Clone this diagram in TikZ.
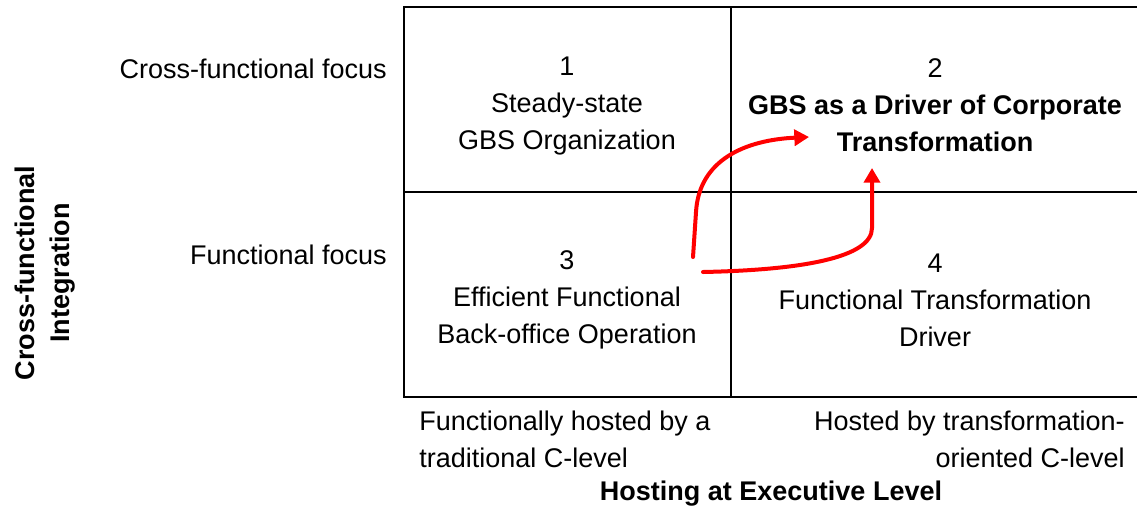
\documentclass[tikz,border=0pt]{standalone}
\usepackage{fontspec}
\setmainfont{Liberation Sans}
\usetikzlibrary{arrows.meta}

\begin{document}
\begin{tikzpicture}[x=0.75pt, y=-0.75pt,
        txt/.style={font=\fontsize{20.25}{27.75}\selectfont, align=center, inner sep=0pt},
        grid/.style={line width=1.6pt, line cap=rect},
        move/.style={red, line width=3pt, line cap=round,
                     -{Triangle[length=11pt, width=12pt]}}]
        \useasboundingbox (0,0) rectangle (1137,511);
        % matrix lines
        \coordinate (TL) at (404,7);
        \coordinate (TR) at (1137,7);
        \coordinate (BL) at (404,397);
        \coordinate (BR) at (1137,397);
        \coordinate (ML) at (404,192);
        \coordinate (MR) at (1137,192);
        \coordinate (MT) at (731,7);
        \coordinate (MB) at (731,397);
        \draw[grid] (TR) -- (TL) -- (BL) -- (BR);
        \draw[grid] (ML) -- (MR);
        \draw[grid] (MT) -- (MB);
        % quadrants
        \node[txt](Q1) at (567,106) {1\\Steady-state\\GBS Organization};
        \node[txt](Q2) at (935,105) {2\\\textbf{GBS as a Driver of Corporate}\\\textbf{Transformation}};
        \node[txt](Q3) at (567,300) {3\\Efficient Functional\\Back-office Operation};
        \node[txt](Q4) at (935,300) {4\\Functional Transformation\\Driver};
        % row labels
        \node[txt, anchor=east](CF) at (387,69)  {Cross-functional focus};
        \node[txt, anchor=east](FF) at (387,255) {Functional focus};
        % column labels
        \node[txt, anchor=west, align=left](HL)  at (419,439)  {Functionally hosted by a\\traditional C-level};
        \node[txt, anchor=east, align=right](HR) at (1125,439) {Hosted by transformation-\\oriented C-level};
        \node[txt, font=\fontsize{20.25}{27.75}\selectfont\bfseries](XAX) at (771,494) {Hosting at Executive Level};
        \node[txt, font=\fontsize{20.25}{26}\selectfont\bfseries, rotate=90](YAX) at (45,273) {Cross-functional\\Integration};
        % moves
        \coordinate (S1) at (693,257);
        \coordinate (E1) at (809,137);
        \coordinate (S2) at (703,272);
        \coordinate (E2) at (872,168);
        \draw[move] (S1) -- (696,212) .. controls (699,160) and (745,140) .. (E1);
        \draw[move] (S2) .. controls (800,270) and (872,258) .. (872,228) -- (E2);
\end{tikzpicture}
\end{document}
